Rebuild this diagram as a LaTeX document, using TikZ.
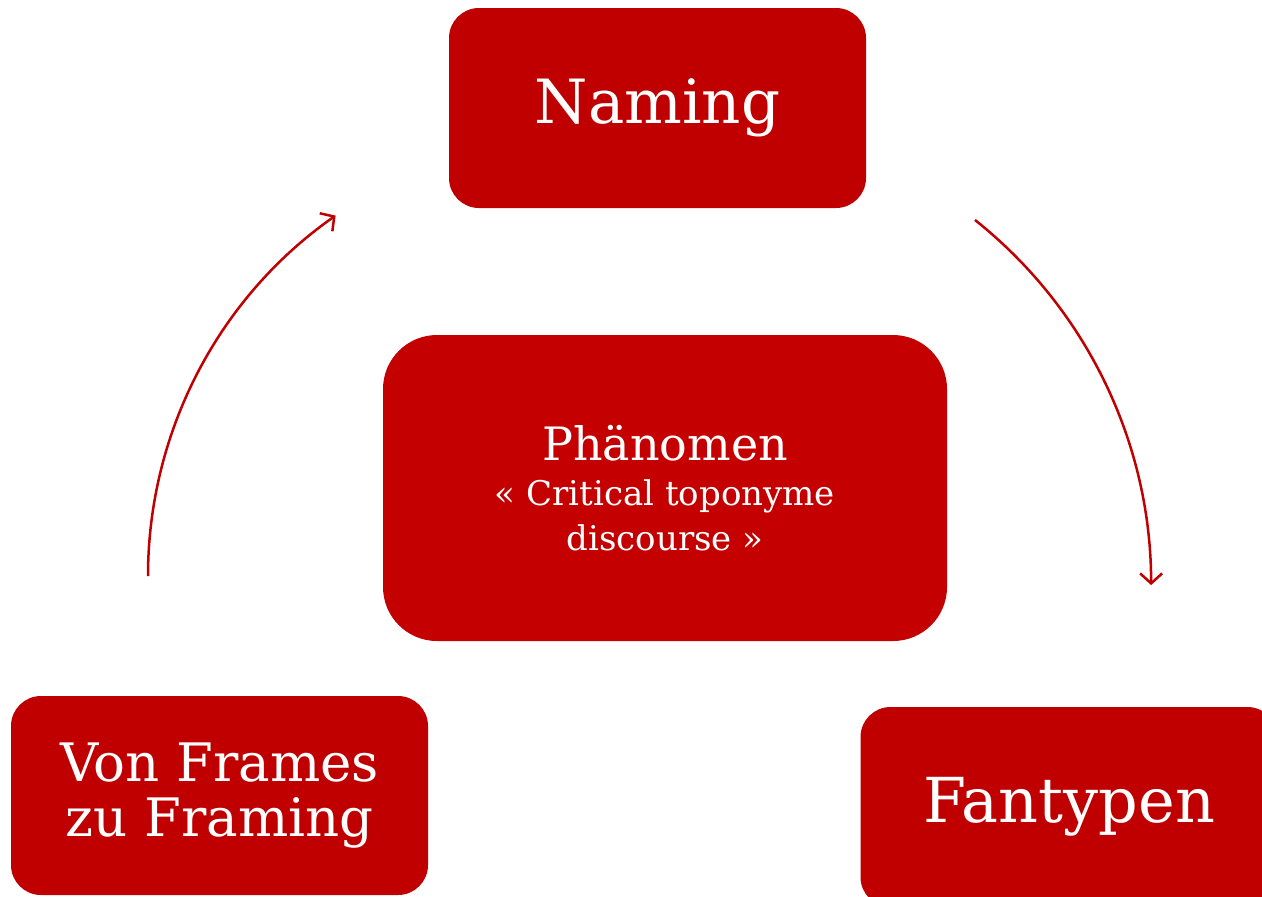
\documentclass[tikz,border=0pt]{standalone}
\usepackage{fontspec}
\setmainfont{DejaVu Serif}
\usetikzlibrary{arrows.meta}
\definecolor{boxred}{HTML}{C00000}
\definecolor{midred}{HTML}{C40000}
\tikzset{
  box/.style={rectangle, fill=boxred, text=white, align=center, inner sep=0pt,
              minimum width=208.5pt, minimum height=100pt, rounded corners=15pt},
  cyc/.style={draw=boxred, line width=1.25pt, -{Straight Barb[length=5pt,width=11pt,line width=1.25pt]}}
}
\begin{document}
\begin{tikzpicture}[x=0.5pt,y=-0.5pt]
\useasboundingbox (0,0) rectangle (1262,896);
\begin{scope}
\clip (0,0) rectangle (1262,896);
\node[box, font=\fontsize{30.5}{30.5}\selectfont] (naming) at (657.5,108) {Naming};
\node[box, fill=midred, minimum width=282pt, minimum height=153pt, rounded corners=27pt,
      font=\fontsize{17}{22.5}\selectfont] (center) at (665,488)
      {{\fontsize{23}{23}\selectfont Phänomen}\\« Critical toponyme\\discourse »};
\node[box, minimum height=99.5pt, font=\fontsize{26.5}{27.5}\selectfont] (frames) at (219.5,795.5) {Von Frames\\zu Framing};
\node[box, font=\fontsize{31}{31}\selectfont] (fan) at (1069,807) {Fantypen};
\end{scope}
\coordinate (l1) at (148,576);
\coordinate (r1) at (975,220);
\draw[cyc] (l1) arc[start angle=180, end angle=235, radius=440];
\draw[cyc] (r1) arc[start angle=-51.5, end angle=0, radius=466.5];
\end{tikzpicture}
\end{document}
